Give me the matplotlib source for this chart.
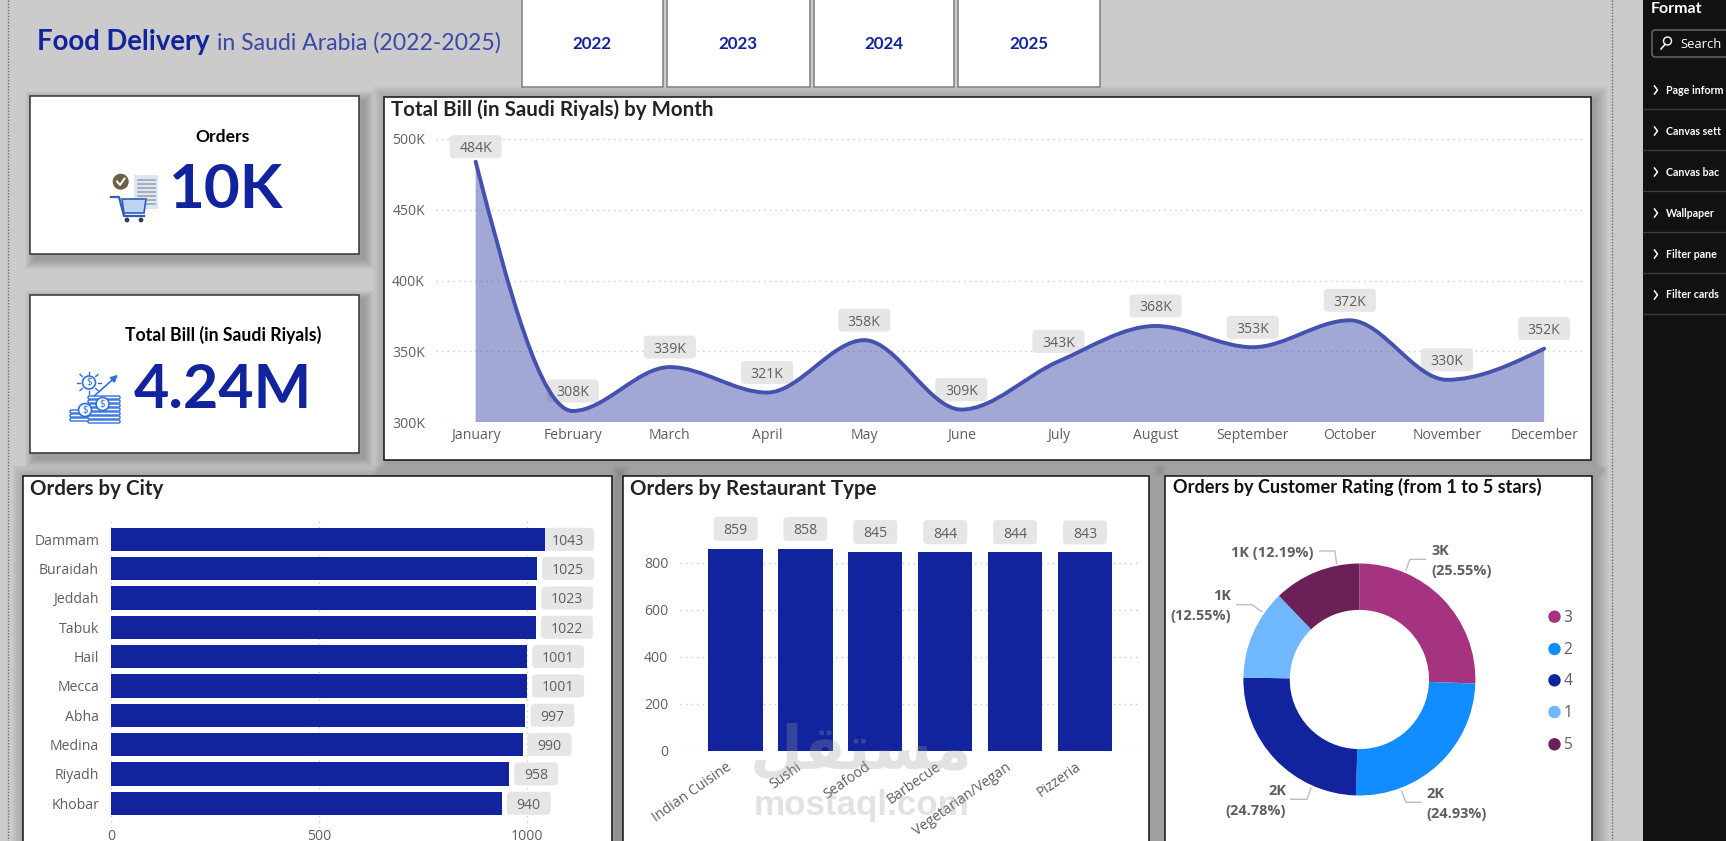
import matplotlib
matplotlib.use("Agg")
import matplotlib.pyplot as plt
from matplotlib.patches import Rectangle, FancyBboxPatch, Circle, PathPatch, Polygon
from matplotlib.path import Path
from matplotlib.transforms import IdentityTransform, ScaledTranslation

W, H = 1726, 841

months = ["January", "February", "March", "April", "May", "June", "July",
          "August", "September", "October", "November", "December"]
bill_k = [484, 308, 339, 321, 358, 309, 343, 368, 353, 372, 330, 352]
bill_ticks = [300, 350, 400, 450, 500]

cities = ["Dammam", "Buraidah", "Jeddah", "Tabuk", "Hail", "Mecca", "Abha",
          "Medina", "Riyadh", "Khobar"]
city_orders = [1043, 1025, 1023, 1022, 1001, 1001, 997, 990, 958, 940]
city_ticks = [0, 500, 1000]

rest_types = ["Indian Cuisine", "Sushi", "Seafood", "Barbecue", "Vegetarian/Vegan", "Pizzeria"]
rest_orders = [859, 858, 845, 844, 844, 843]
rest_ticks = [0, 200, 400, 600, 800]

ratings = ["3", "2", "4", "1", "5"]
rating_share = [25.55, 24.93, 24.78, 12.55, 12.19]
rating_short = ["3K", "2K", "2K", "1K", "1K"]
rating_colors = ["#A6337F", "#118DFF", "#12239E", "#6FB7FF", "#6B2158"]

years = ["2022", "2023", "2024", "2025"]
format_items = ["Page inform", "Canvas sett", "Canvas bac",
                "Wallpaper", "Filter pane", "Filter cards"]

NAVY = "#12239E"
GREY_TEXT = "#605E5C"
TITLE_COL = "#252423"
LABEL_BG = "#E6E6E6"
GRID = "#C9C9C9"
DOTS = (0, (1, 3))
HEAD_FONT = "Lato"

plt.rcParams["font.family"] = ["Open Sans", "DejaVu Sans"]


def pt(size_px):
    return size_px * 0.72


def px_axes(left, top, right, bottom, z=1):
    ax = fig.add_axes([left / W, 1 - bottom / H, (right - left) / W, (bottom - top) / H], zorder=z)
    ax.patch.set_alpha(0)
    for s in ax.spines.values():
        s.set_visible(False)
    ax.tick_params(length=0, labelcolor=GREY_TEXT, labelsize=pt(14))
    return ax


def panel(x0, y0, x1, y1, edge="#111111", lw=1.1, spread=14, off=3, strength=0.016):
    # soft drop shadow built from stacked translucent rectangles
    for i in range(spread, 0, -1):
        bg.add_patch(Rectangle((x0 - i + off, y0 - i + off), x1 - x0 + 2 * i, y1 - y0 + 2 * i,
                               fc="black", ec="none", alpha=strength, zorder=1))
    bg.add_patch(Rectangle((x0, y0), x1 - x0, y1 - y0, fc="white", ec=edge, lw=lw, zorder=2))


def heading(x, y, text, size=20.5, color=TITLE_COL):
    bg.text(x, y, text, fontsize=pt(size), fontweight="bold", family=HEAD_FONT,
            color=color, va="center", ha="left", zorder=3)


def value_label(ax, x, y, text, dx=0, dy=0, w=52, h=23, z=1.5):
    # grey rounded tag placed relative to a data point, in screen pixels
    cx, cy = ax.transData.transform((x, y))
    cx, cy = cx + dx, cy + dy
    ax.add_patch(FancyBboxPatch((cx - w / 2, cy - h / 2), w, h, boxstyle="round,pad=0,rounding_size=4",
                                fc=LABEL_BG, ec="none", transform=IdentityTransform(),
                                clip_on=False, zorder=z))
    ax.text(cx, cy, text, transform=IdentityTransform(), ha="center", va="center_baseline",
            fontsize=pt(14), color=GREY_TEXT, clip_on=False, zorder=5)


def monotone_curve(xs, ys):
    # cubic segments with flat tangents at local peaks, so the curve passes through each month
    n = len(xs)
    secant = [(ys[i + 1] - ys[i]) / (xs[i + 1] - xs[i]) for i in range(n - 1)]
    tang = [0.0] * n
    for i in range(1, n - 1):
        a, b = secant[i - 1], secant[i]
        if a * b > 0:
            sign = 1 if a > 0 else -1
            tang[i] = sign * 2 * min(abs(a), abs(b), 0.25 * abs(a + b))
    tang[0] = (3 * secant[0] - tang[1]) / 2
    tang[-1] = (3 * secant[-1] - tang[-2]) / 2
    verts = [(xs[0], ys[0])]
    codes = [Path.MOVETO]
    for i in range(n - 1):
        h = (xs[i + 1] - xs[i]) / 3
        verts += [(xs[i] + h, ys[i] + h * tang[i]), (xs[i + 1] - h, ys[i + 1] - h * tang[i + 1]),
                  (xs[i + 1], ys[i + 1])]
        codes += [Path.CURVE4] * 3
    return verts, codes


fig = plt.figure(figsize=(W / 100, H / 100), dpi=100, facecolor="#CBCBCB")

# full canvas layer in pixel units for the report furniture
bg = fig.add_axes([0, 0, 1, 1], zorder=0)
bg.set_xlim(0, W)
bg.set_ylim(H, 0)
bg.axis("off")

for x in [7.7, 1611.5]:
    bg.plot([x, x], [0, H], color="#6A6A6A", lw=1, ls=(0, (1, 1.2)), zorder=1)

# report title
bg.text(36.5, 42, "Food Delivery", fontsize=pt(27.5), fontweight="bold", family=HEAD_FONT,
        color=NAVY, va="center")
bg.text(217, 43, "in Saudi Arabia (2022-2025)", fontsize=pt(23), family=HEAD_FONT,
        color="#3A48A8", va="center")

# year slicer tiles
tile_x = [(521.6, 662.6), (667, 809.6), (813.5, 954.4), (958.3, 1099.6)]
for (x0, x1), year in zip(tile_x, years):
    bg.add_patch(Rectangle((x0, -3), x1 - x0, 90, fc="white", ec="#7F7F7F", lw=1.1, zorder=2))
    bg.text((x0 + x1) / 2, 44, year, fontsize=pt(17), fontweight="bold", family=HEAD_FONT,
            color=NAVY, ha="center", va="center", zorder=3)

# KPI cards
panel(30, 96, 359, 253.7, edge="#333333", spread=10, off=5, strength=0.024)
panel(30, 295, 359, 453, edge="#333333", spread=10, off=5, strength=0.024)
bg.text(223, 136.5, "Orders", fontsize=pt(17.5), fontweight="bold", family=HEAD_FONT,
        color="black", ha="center", va="center", zorder=3)
bg.text(226.5, 190, "10K", fontsize=pt(62), fontweight="bold", family=HEAD_FONT,
        color=NAVY, ha="center", va="center", zorder=3)
bg.text(223, 335, "Total Bill (in Saudi Riyals)", fontsize=pt(17.6), fontweight="bold", family=HEAD_FONT,
        color="black", ha="center", va="center", zorder=3)
bg.text(222.5, 390, "4.24M", fontsize=pt(61), fontweight="bold", family=HEAD_FONT,
        color=NAVY, ha="center", va="center", zorder=3)

# order card icon: clipboard, check badge, cart
bg.add_patch(Rectangle((134, 175), 24, 34, fc="#DCE6F5", ec="none", zorder=3))
for y in range(180, 206, 4):
    bg.plot([138, 155], [y, y], color="#9AA3AE", lw=1.2, zorder=4)
bg.add_patch(Circle((120.7, 181.7), 8, fc="#6B6045", ec="none", zorder=4))
bg.plot([117, 120, 124.5], [181.5, 185, 178.5], color="white", lw=1.4, zorder=5)
bg.add_patch(Polygon([(122, 199), (146, 199), (144, 213), (124, 213)], fc="#BFD4F2", ec="#2C5FB3", lw=1.2, zorder=5))
bg.plot([111, 119, 124, 144], [197, 197, 216, 216], color="#2C5FB3", lw=1.6, zorder=5)
for x in [127, 141]:
    bg.add_patch(Circle((x, 220), 2.4, fc="#2C3E50", ec="none", zorder=5))

# bill card icon: coin stacks, dollar sun, rising arrow
ICON_BLUE = "#2F6FDE"
for x0, x1, y_top in [(70, 99, 410), (88, 120, 396)]:
    for y in range(int(y_top), 421, 4):
        bg.add_patch(FancyBboxPatch((x0, y), x1 - x0, 3, boxstyle="round,pad=0,rounding_size=1.2",
                                    fc="white", ec=ICON_BLUE, lw=1, zorder=3))
for cx, cy in [(85, 410), (102.6, 404)]:
    bg.add_patch(Circle((cx, cy), 6.5, fc="white", ec=ICON_BLUE, lw=1.2, zorder=4))
    bg.text(cx, cy, "$", fontsize=pt(10), color=ICON_BLUE, ha="center", va="center", zorder=5)
bg.add_patch(Circle((89, 382.5), 6.5, fc="white", ec=ICON_BLUE, lw=1.2, zorder=4))
bg.text(89, 382.5, "$", fontsize=pt(10), color=ICON_BLUE, ha="center", va="center", zorder=5)
for dx, dy in [(-12, 0), (12, 0), (0, -11), (0, 11), (-9, -8), (9, -8), (-9, 8), (9, 8)]:
    bg.plot([89 + dx * 0.75, 89 + dx], [382.5 + dy * 0.75, 382.5 + dy], color=ICON_BLUE, lw=1, zorder=4)
bg.annotate("", xy=(120, 373), xytext=(92, 398),
            arrowprops=dict(arrowstyle="-|>", color=ICON_BLUE, lw=1.2), zorder=4)

# chart panels
panel(383.5, 96.5, 1590.5, 459.5)
panel(23, 475.7, 611.7, 870)
panel(622.5, 475.7, 1148.6, 870)
panel(1165.4, 475.7, 1591.6, 870)
heading(390.5, 109.5, "Total Bill (in Saudi Riyals) by Month")
heading(29.7, 489, "Orders by City")
heading(629.6, 489, "Orders by Restaurant Type")
heading(1172.8, 487, "Orders by Customer Rating (from 1 to 5 stars)", size=18.1, color="#111111")

# monthly bill area line
ax1 = px_axes(436, 139, 1583, 422.3)
ax1.set_xlim(-0.408, 11.40)
ax1.set_ylim(300, 500)
month_pos = list(range(len(months)))
curve_v, curve_c = monotone_curve(month_pos, bill_k)
area_v = curve_v + [(month_pos[-1], 300), (month_pos[0], 300), curve_v[0]]
area_c = curve_c + [Path.LINETO, Path.LINETO, Path.CLOSEPOLY]
ax1.add_patch(PathPatch(Path(area_v, area_c), fc="#4452AE", alpha=0.5, ec="none", zorder=1))
ax1.add_patch(PathPatch(Path(curve_v, curve_c), fc="none", ec="#4452AE", lw=2.8, capstyle="round", zorder=3))
ax1.set_yticks(bill_ticks)
ax1.set_yticklabels([f"{v}K" for v in bill_ticks])
ax1.set_xticks(month_pos)
ax1.set_xticklabels(months)
ax1.tick_params(axis="y", pad=pt(11))
ax1.tick_params(axis="x", pad=pt(6))
ax1.grid(axis="y", color=GRID, lw=1, ls=DOTS, zorder=0)
ax1.set_axisbelow(True)
for i, (m, v) in enumerate(zip(month_pos, bill_k)):
    value_label(ax1, m, v, f"{v}K", dy=15 if i == 0 else 20, z=0.9)

# orders by city bars
ax2 = px_axes(111, 520, 568, 828)
ax2.set_xlim(0, 1099.3)
ax2.set_ylim(9.843, -0.658)
city_pos = list(range(len(cities)))
ax2.barh(city_pos, city_orders, height=0.795, color=NAVY, zorder=2)
ax2.set_yticks(city_pos)
ax2.set_yticklabels(cities)
ax2.set_xticks(city_ticks)
ax2.set_xticklabels([str(t) for t in city_ticks])
ax2.tick_params(axis="y", pad=pt(12))
ax2.tick_params(axis="x", pad=pt(1))
ax2.grid(axis="x", color=GRID, lw=1, ls=DOTS, zorder=0)
ax2.set_axisbelow(True)
for p, v in zip(city_pos, city_orders):
    w = 52 if v >= 1000 else 44
    # the longest tag stays inside the plot width
    value_label(ax2, min(v, 1025), p, str(v), dx=5 + w / 2, w=w)

# orders by restaurant type columns
ax3 = px_axes(680.4, 520, 1138, 750.7)
ax3.set_xlim(-0.79, 5.76)
ax3.set_ylim(0, 980.9)
rest_pos = list(range(len(rest_types)))
ax3.bar(rest_pos, rest_orders, width=0.777, color=NAVY, zorder=2)
ax3.set_yticks(rest_ticks)
ax3.set_yticklabels([str(t) for t in rest_ticks])
ax3.set_xticks(rest_pos)
ax3.set_xticklabels(rest_types, rotation=35, ha="right", rotation_mode="anchor")
ax3.tick_params(axis="y", pad=pt(12))
ax3.tick_params(axis="x", pad=pt(9))
shift_left = ScaledTranslation(-10 / 100, 0, fig.dpi_scale_trans)
for lbl in ax3.get_xticklabels():
    lbl.set_transform(lbl.get_transform() + shift_left)
ax3.grid(axis="y", color=GRID, lw=1, ls=DOTS, zorder=0)
ax3.set_axisbelow(True)
for p, v in zip(rest_pos, rest_orders):
    value_label(ax3, p, v, str(v), dy=20, w=44, h=24)

# customer rating donut
ax4 = px_axes(1359.4 - 116, 679.5 - 116, 1359.4 + 116, 679.5 + 116)
ax4.pie(rating_share, colors=rating_colors, startangle=90, counterclock=False, radius=1,
        wedgeprops=dict(width=0.4, linewidth=0))
ax4.set_xlim(-1, 1)
ax4.set_ylim(-1, 1)

donut_notes = [
    (1431, 551, "left", rating_short[0], rating_share[0]),
    (1426, 794, "left", rating_short[1], rating_share[1]),
    (1286, 791, "right", rating_short[2], rating_share[2]),
    (1231, 596, "right", rating_short[3], rating_share[3]),
]
note_lines = [
    [(1406, 570), (1410, 559.3), (1425.5, 559.3)],
    [(1401.6, 791), (1406, 802.3), (1421, 802.3)],
    [(1311, 788.3), (1307, 799.3), (1290.7, 799.3)],
    [(1262, 611.7), (1251.8, 604.7), (1236.7, 604.7)],
    [(1336.6, 563.3), (1334.8, 551), (1319.7, 551)],
]
for x, y, ha, short, share in donut_notes:
    bg.text(x, y, short, ha=ha, va="center", fontsize=pt(14.5), fontweight="bold",
            color=GREY_TEXT, zorder=3)
    bg.text(x, y + 20, f"({share}%)", ha=ha, va="center", fontsize=pt(14.5), fontweight="bold",
            color=GREY_TEXT, zorder=3)
bg.text(1313.5, 553, f"{rating_short[4]} ({rating_share[4]}%)", ha="right", va="center",
        fontsize=pt(14.5), fontweight="bold", color=GREY_TEXT, zorder=3)
for line_pts in note_lines:
    bg.plot(*zip(*line_pts), color="#BDBDBD", lw=1, zorder=3)

legend_y = [616.7, 649, 680.3, 712, 744.3]
for y, name, col in zip(legend_y, ratings, rating_colors):
    bg.add_patch(Circle((1554.5, y), 6.2, fc=col, ec="none", zorder=3))
    bg.text(1563.3, y + 1, name, fontsize=pt(15.5), color=GREY_TEXT, va="center", ha="left", zorder=3)

# format pane on the right edge
bg.add_patch(Rectangle((1643, 0), W - 1643, H, fc="#111111", ec="none", zorder=3))
bg.text(1651, 9, "Format", fontsize=pt(16), fontweight="bold", family=HEAD_FONT, color="white", va="center", zorder=4)
bg.add_patch(FancyBboxPatch((1652, 30), 90, 27, boxstyle="round,pad=0,rounding_size=3",
                            fc="#111111", ec="#6E6E6E", lw=1, zorder=4))
bg.add_patch(Circle((1667.5, 41), 4, fc="none", ec="white", lw=1, zorder=5))
bg.plot([1665, 1661], [44.5, 49], color="white", lw=1.1, zorder=5)
bg.text(1680, 44, "Search", fontsize=pt(13), color="white", va="center", zorder=5)
for i, item in enumerate(format_items):
    y = 90 + 41 * i
    bg.plot([1654.5, 1657.5, 1654.5], [y - 4, y, y + 4], color="white", lw=1.1, zorder=5)
    bg.text(1666, y, item, fontsize=pt(10.6), fontweight="bold", family=HEAD_FONT, color="white",
            va="center", zorder=5)
    bg.plot([1643, W], [y + 19, y + 19], color="#3C3C3C", lw=1, zorder=5)

# site watermark across the restaurant panel
top = fig.add_axes([0, 0, 1, 1], zorder=5)
top.set_xlim(0, W)
top.set_ylim(H, 0)
top.axis("off")
top.text(861.5, 805, "mostaql.com", fontsize=pt(35), fontweight="bold", family="Liberation Sans",
         color="#9A9A9A", alpha=0.28, ha="center", va="center")
top.text(861.5, 752, "\uFEDE\uFED8\uFE98\uFEB4\uFEE3", fontsize=pt(61), fontweight="bold", family="DejaVu Sans",
         color="#9A9A9A", alpha=0.28, ha="center", va="center")

fig.savefig("out.png", dpi=100)
plt.close(fig)
